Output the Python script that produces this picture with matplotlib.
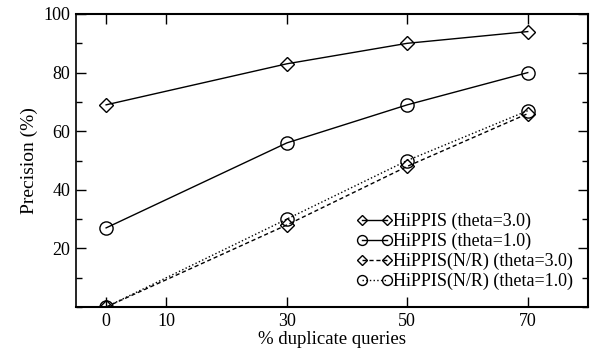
import matplotlib
matplotlib.use("Agg")
import matplotlib.pyplot as plt
from matplotlib.ticker import MultipleLocator

plt.rcParams['font.family'] = ['Liberation Serif', 'DejaVu Serif']

x = [0, 30, 50, 70]
hippis_t3 = [69, 83, 90, 94]
hippis_t1 = [27, 56, 69, 80]
nr_t3 = [0, 28, 48, 66]
nr_t1 = [0, 30, 50, 67]
labels = ["HiPPIS (theta=3.0)", "HiPPIS (theta=1.0)",
          "HiPPIS(N/R) (theta=3.0)", "HiPPIS(N/R) (theta=1.0)"]
xticks = [0, 10, 30, 50, 70]

fig = plt.figure(figsize=(5.92, 3.5), dpi=100)
ax = fig.add_axes([76/592, 1-307/350, (588-76)/592, (307-14)/350])

mk = dict(mfc='none', mec='black', color='black', lw=1, mew=1)
ax.plot(x, hippis_t3, marker='D', ms=7, ls='-', label=labels[0], **mk)
ax.plot(x, hippis_t1, marker='o', ms=9.5, ls='-', label=labels[1], **mk)
ax.plot(x, nr_t3, marker='D', ms=7, ls='--', dashes=(3, 2), label=labels[2], **mk)
ax.plot(x, nr_t1, marker='o', ms=9.5, ls=':', label=labels[3], **mk)

ax.set_xlim(-5, 80)
ax.set_ylim(0, 100)
ax.set_xticks(xticks)
ax.set_yticks([20, 40, 60, 80, 100])
ax.yaxis.set_minor_locator(MultipleLocator(10))
ax.tick_params(direction='in', top=True, right=True, length=7, width=1, labelsize=13, pad=4)
ax.tick_params(which='minor', direction='in', right=True, length=4, width=1)
for s in ax.spines.values():
    s.set_linewidth(1.5)
ax.spines['left'].set_linewidth(1.2)

ax.set_xlabel('% duplicate queries', fontsize=13.5, labelpad=1)
ax.set_ylabel('Precision (%)', fontsize=14)

ax.legend(loc='lower right', bbox_to_anchor=(0.995, 0.015), frameon=False, numpoints=2,
          fontsize=13, handlelength=2.0, handletextpad=0.0, labelspacing=0.15,
          borderpad=0.2, markerscale=0.75)

fig.savefig('out.png', dpi=100)
